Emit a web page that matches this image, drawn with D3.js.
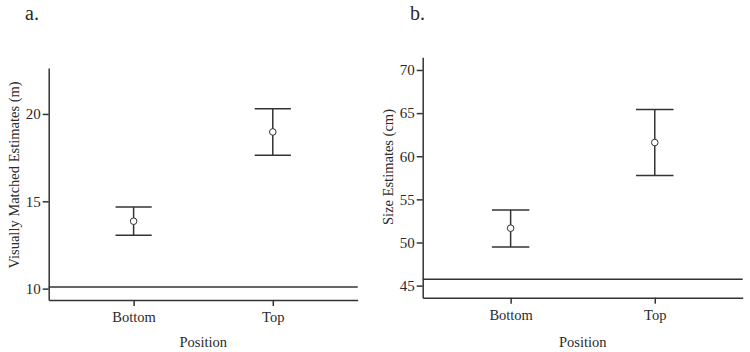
<!DOCTYPE html>
<html>
<head>
<meta charset="utf-8">
<script src="https://cdn.jsdelivr.net/npm/d3@7"></script>
<style>
  body { margin: 0; background: #fff; }
  text { font-family: "Liberation Serif", "Times New Roman", serif; fill: #2a2a2a; }
</style>
</head>
<body>
<div id="container"></div>
<script>
// overall size
let w = 750;
let h = 352;
let lineColor = "#333";
let textColor = "#2a2a2a";

// shared categories
let positions = ["Bottom", "Top"];

// panel a: visually matched estimates (m)
let meansA = [13.86, 18.97];
let lowerA = [13.06, 17.64];
let upperA = [14.68, 20.30];
let ticksA = [10, 15, 20];
let refA = 10.1;

// panel b: size estimates (cm)
let meansB = [51.66, 61.59];
let lowerB = [49.49, 57.76];
let upperB = [53.78, 65.41];
let ticksB = [45, 50, 55, 60, 65, 70];
let refB = 45.74;

var svg = d3.select("#container")
            .append("svg")
            .attr("width", w)
            .attr("height", h);

function drawPanel(p) {
    var g = svg.append("g");

    var x = d3.scalePoint()
              .domain(positions)
              .range([p.left, p.right])
              .padding(0.61);

    var y = d3.scaleLinear()
              .domain(p.domain)
              .range([p.bottom, p.top]);

    // y axis
    var yAxis = g.append("g")
       .attr("transform", "translate(" + p.left + ",0)")
       .call(d3.axisLeft(y).tickValues(p.ticks).tickSize(6).tickSizeOuter(0).tickPadding(2));

    // x axis
    var xAxis = g.append("g")
       .attr("transform", "translate(0," + p.bottom + ")")
       .call(d3.axisBottom(x).tickSize(6).tickSizeOuter(0).tickPadding(6));

    [yAxis, xAxis].forEach(function(a) {
        a.selectAll("path, line").attr("stroke", lineColor).attr("stroke-width", 1.5);
        a.selectAll("text")
         .style("font-family", "'Liberation Serif', serif")
         .attr("fill", textColor);
    });
    yAxis.selectAll("text").style("font-size", "15px");
    xAxis.selectAll("text").style("font-size", "14.5px");

    // reference line
    g.append("line")
     .attr("x1", p.left).attr("x2", p.right)
     .attr("y1", y(p.ref)).attr("y2", y(p.ref))
     .attr("stroke", lineColor)
     .attr("stroke-width", 1.5);

    var capHalf = x.step() * 0.13;

    var bars = g.selectAll(".err")
       .data(positions)
       .enter()
       .append("g")
       .attr("class", "err");

    bars.append("line")
        .attr("x1", function(d) { return x(d); })
        .attr("x2", function(d) { return x(d); })
        .attr("y1", function(d, i) { return y(p.lower[i]); })
        .attr("y2", function(d, i) { return y(p.upper[i]); })
        .attr("stroke", lineColor).attr("stroke-width", 1.5);

    bars.append("line")
        .attr("x1", function(d) { return x(d) - capHalf; })
        .attr("x2", function(d) { return x(d) + capHalf; })
        .attr("y1", function(d, i) { return y(p.upper[i]); })
        .attr("y2", function(d, i) { return y(p.upper[i]); })
        .attr("stroke", lineColor).attr("stroke-width", 1.5);

    bars.append("line")
        .attr("x1", function(d) { return x(d) - capHalf; })
        .attr("x2", function(d) { return x(d) + capHalf; })
        .attr("y1", function(d, i) { return y(p.lower[i]); })
        .attr("y2", function(d, i) { return y(p.lower[i]); })
        .attr("stroke", lineColor).attr("stroke-width", 1.5);

    bars.append("circle")
        .attr("cx", function(d) { return x(d); })
        .attr("cy", function(d, i) { return y(p.means[i]); })
        .attr("r", 3.3)
        .attr("fill", "#fff")
        .attr("stroke", lineColor)
        .attr("stroke-width", 1);

    // panel letter
    g.append("text")
     .attr("x", p.letterX)
     .attr("y", 20)
     .style("font-size", "20px")
     .text(p.letter);

    // axis titles
    g.append("text")
     .attr("text-anchor", "middle")
     .attr("x", (p.left + p.right) / 2)
     .attr("y", 347)
     .style("font-size", "14.5px")
     .text("Position");

    g.append("text")
     .attr("text-anchor", "middle")
     .attr("transform", "translate(" + (p.left - 30) + "," + p.labelY + ") rotate(-90)")
     .style("font-size", "14.5px")
     .text(p.yLabel);
}

drawPanel({
    left: 48.7, right: 357.7, top: 68, bottom: 300,
    domain: [9.35, 22.63], ticks: ticksA, ref: refA,
    means: meansA, lower: lowerA, upper: upperA,
    letter: "a.", letterX: 25, labelY: 175,
    yLabel: "Visually Matched Estimates (m)"
});

drawPanel({
    left: 422.7, right: 742.7, top: 57.3, bottom: 297.7,
    domain: [43.6, 71.47], ticks: ticksB, ref: refB,
    means: meansB, lower: lowerB, upper: upperB,
    letter: "b.", letterX: 410, labelY: 167,
    yLabel: "Size Estimates (cm)"
});
</script>
</body>
</html>
